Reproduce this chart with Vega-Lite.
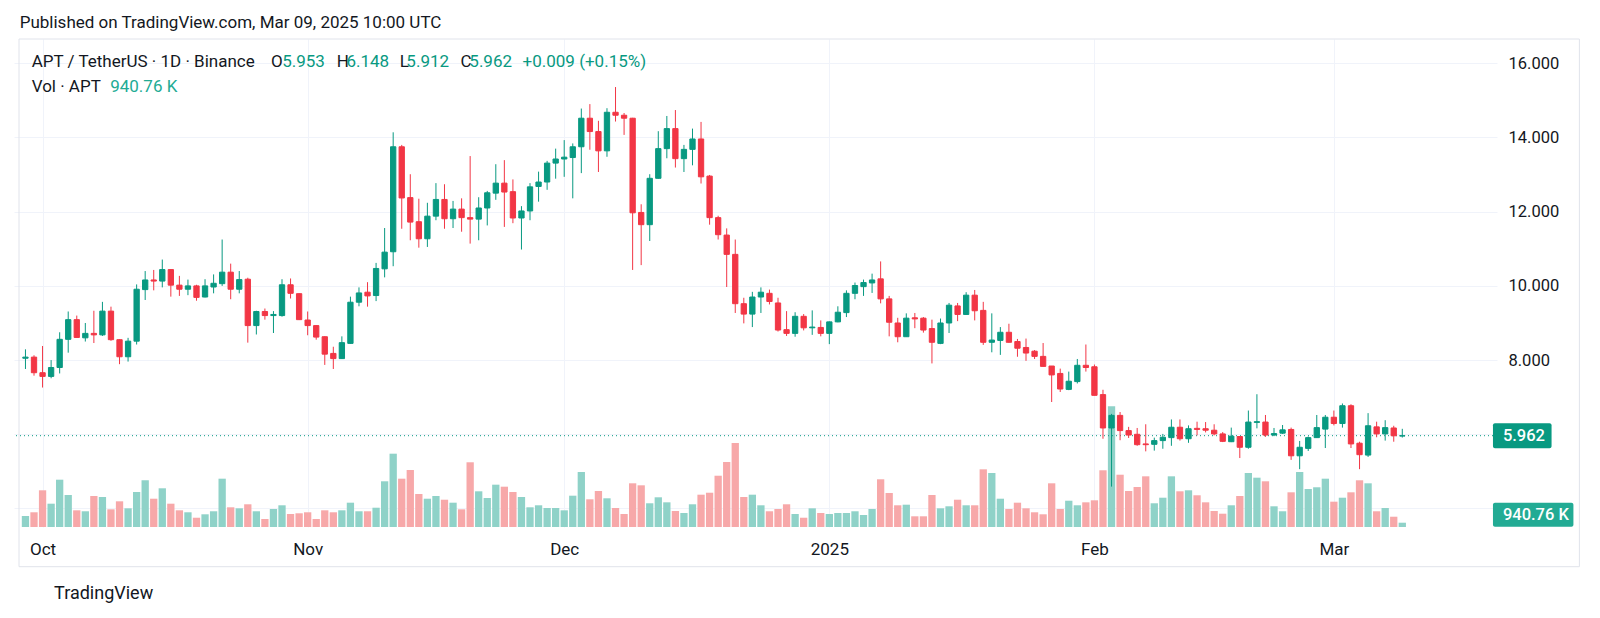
{
  "$schema": "https://vega.github.io/schema/vega-lite/v6.json",
  "width": 1483,
  "height": 488,
  "autosize": {"type": "none"},
  "padding": {"left": 14, "top": 39, "right": 103, "bottom": 91},
  "background": "#ffffff",
  "config": {"view": {"stroke": null}, "font": "Roboto"},
  "data": {"values": [
{"d":"2024-09-29","o":8.05,"h":8.29,"l":7.76,"c":8.08,"v":2.41},
{"d":"2024-09-30","o":8.08,"h":8.13,"l":7.58,"c":7.66,"v":3.22},
{"d":"2024-10-01","o":7.66,"h":8.38,"l":7.26,"c":7.56,"v":8.03},
{"d":"2024-10-02","o":7.56,"h":8.00,"l":7.51,"c":7.80,"v":5.10},
{"d":"2024-10-03","o":7.80,"h":8.75,"l":7.64,"c":8.56,"v":10.35},
{"d":"2024-10-04","o":8.56,"h":9.31,"l":8.20,"c":9.09,"v":7.00},
{"d":"2024-10-05","o":9.09,"h":9.20,"l":8.60,"c":8.61,"v":3.65},
{"d":"2024-10-06","o":8.60,"h":9.00,"l":8.50,"c":8.72,"v":3.44},
{"d":"2024-10-07","o":8.72,"h":9.33,"l":8.46,"c":8.68,"v":6.78},
{"d":"2024-10-08","o":8.68,"h":9.57,"l":8.65,"c":9.32,"v":6.56},
{"d":"2024-10-09","o":9.32,"h":9.44,"l":8.52,"c":8.55,"v":3.87},
{"d":"2024-10-10","o":8.55,"h":8.56,"l":7.89,"c":8.09,"v":5.62},
{"d":"2024-10-11","o":8.09,"h":8.60,"l":7.96,"c":8.51,"v":4.09},
{"d":"2024-10-12","o":8.51,"h":10.04,"l":8.42,"c":9.91,"v":7.66},
{"d":"2024-10-13","o":9.90,"h":10.40,"l":9.62,"c":10.16,"v":10.22},
{"d":"2024-10-14","o":10.16,"h":10.43,"l":9.88,"c":10.13,"v":6.19},
{"d":"2024-10-15","o":10.13,"h":10.71,"l":9.96,"c":10.44,"v":8.47},
{"d":"2024-10-16","o":10.44,"h":10.45,"l":9.71,"c":10.02,"v":5.10},
{"d":"2024-10-17","o":10.02,"h":10.27,"l":9.73,"c":9.91,"v":3.65},
{"d":"2024-10-18","o":9.91,"h":10.17,"l":9.75,"c":10.00,"v":3.22},
{"d":"2024-10-19","o":10.00,"h":10.03,"l":9.60,"c":9.69,"v":2.03},
{"d":"2024-10-20","o":9.70,"h":10.18,"l":9.69,"c":10.00,"v":2.78},
{"d":"2024-10-21","o":9.97,"h":10.31,"l":9.80,"c":10.07,"v":3.44},
{"d":"2024-10-22","o":10.06,"h":11.25,"l":10.00,"c":10.37,"v":10.57},
{"d":"2024-10-23","o":10.37,"h":10.60,"l":9.64,"c":9.91,"v":4.31},
{"d":"2024-10-24","o":9.91,"h":10.40,"l":9.80,"c":10.17,"v":4.09},
{"d":"2024-10-25","o":10.18,"h":10.22,"l":8.47,"c":8.93,"v":4.97},
{"d":"2024-10-26","o":8.93,"h":9.33,"l":8.69,"c":9.31,"v":3.44},
{"d":"2024-10-27","o":9.31,"h":9.39,"l":9.09,"c":9.20,"v":1.75},
{"d":"2024-10-28","o":9.20,"h":9.32,"l":8.73,"c":9.23,"v":3.94},
{"d":"2024-10-29","o":9.20,"h":10.18,"l":9.17,"c":10.03,"v":4.75},
{"d":"2024-10-30","o":10.03,"h":10.20,"l":9.66,"c":9.80,"v":2.84},
{"d":"2024-10-31","o":9.79,"h":9.80,"l":9.08,"c":9.09,"v":3.00},
{"d":"2024-11-01","o":9.08,"h":9.31,"l":8.67,"c":8.93,"v":3.22},
{"d":"2024-11-02","o":8.93,"h":8.94,"l":8.55,"c":8.62,"v":1.75},
{"d":"2024-11-03","o":8.63,"h":8.64,"l":7.87,"c":8.16,"v":3.65},
{"d":"2024-11-04","o":8.18,"h":8.36,"l":7.76,"c":8.04,"v":3.22},
{"d":"2024-11-05","o":8.04,"h":8.64,"l":8.03,"c":8.47,"v":3.65},
{"d":"2024-11-06","o":8.45,"h":9.71,"l":8.44,"c":9.56,"v":5.32},
{"d":"2024-11-07","o":9.56,"h":9.96,"l":9.45,"c":9.81,"v":3.44},
{"d":"2024-11-08","o":9.83,"h":10.10,"l":9.44,"c":9.73,"v":3.44},
{"d":"2024-11-09","o":9.74,"h":10.62,"l":9.59,"c":10.47,"v":4.22},
{"d":"2024-11-10","o":10.46,"h":11.56,"l":10.23,"c":10.91,"v":10.00},
{"d":"2024-11-11","o":10.92,"h":14.14,"l":10.53,"c":13.75,"v":16.04},
{"d":"2024-11-12","o":13.75,"h":13.80,"l":11.54,"c":12.37,"v":10.57},
{"d":"2024-11-13","o":12.38,"h":13.01,"l":11.23,"c":11.72,"v":12.47},
{"d":"2024-11-14","o":11.73,"h":12.35,"l":11.03,"c":11.27,"v":7.22},
{"d":"2024-11-15","o":11.27,"h":12.24,"l":11.05,"c":11.88,"v":6.19},
{"d":"2024-11-16","o":11.88,"h":12.77,"l":11.77,"c":12.33,"v":6.78},
{"d":"2024-11-17","o":12.33,"h":12.74,"l":11.54,"c":11.81,"v":5.97},
{"d":"2024-11-18","o":11.81,"h":12.29,"l":11.56,"c":12.07,"v":5.32},
{"d":"2024-11-19","o":12.07,"h":12.36,"l":11.46,"c":11.84,"v":3.87},
{"d":"2024-11-20","o":11.84,"h":13.50,"l":11.14,"c":11.80,"v":14.16},
{"d":"2024-11-21","o":11.80,"h":12.39,"l":11.23,"c":12.10,"v":7.81},
{"d":"2024-11-22","o":12.10,"h":12.56,"l":11.63,"c":12.51,"v":6.35},
{"d":"2024-11-23","o":12.50,"h":13.28,"l":12.32,"c":12.77,"v":9.26},
{"d":"2024-11-24","o":12.77,"h":13.39,"l":11.59,"c":12.53,"v":8.82},
{"d":"2024-11-25","o":12.54,"h":12.87,"l":11.69,"c":11.83,"v":7.66},
{"d":"2024-11-26","o":11.83,"h":12.15,"l":10.98,"c":12.02,"v":6.56},
{"d":"2024-11-27","o":12.02,"h":12.77,"l":11.77,"c":12.67,"v":4.31},
{"d":"2024-11-28","o":12.68,"h":13.08,"l":12.27,"c":12.80,"v":4.75},
{"d":"2024-11-29","o":12.80,"h":13.37,"l":12.59,"c":13.31,"v":4.16},
{"d":"2024-11-30","o":13.31,"h":13.70,"l":12.89,"c":13.42,"v":4.16},
{"d":"2024-12-01","o":13.42,"h":13.93,"l":12.94,"c":13.47,"v":3.65},
{"d":"2024-12-02","o":13.46,"h":13.84,"l":12.36,"c":13.75,"v":6.85},
{"d":"2024-12-03","o":13.75,"h":14.78,"l":13.04,"c":14.52,"v":12.03},
{"d":"2024-12-04","o":14.52,"h":14.90,"l":13.67,"c":14.16,"v":6.06},
{"d":"2024-12-05","o":14.16,"h":14.45,"l":13.07,"c":13.64,"v":7.88},
{"d":"2024-12-06","o":13.64,"h":14.79,"l":13.48,"c":14.68,"v":6.28},
{"d":"2024-12-07","o":14.68,"h":15.36,"l":14.43,"c":14.60,"v":4.16},
{"d":"2024-12-08","o":14.60,"h":14.66,"l":14.07,"c":14.52,"v":2.84},
{"d":"2024-12-09","o":14.52,"h":14.53,"l":10.43,"c":11.97,"v":9.56},
{"d":"2024-12-10","o":11.98,"h":12.20,"l":10.56,"c":11.65,"v":9.12},
{"d":"2024-12-11","o":11.65,"h":13.01,"l":11.21,"c":12.90,"v":5.19},
{"d":"2024-12-12","o":12.90,"h":14.17,"l":12.89,"c":13.70,"v":6.50},
{"d":"2024-12-13","o":13.70,"h":14.58,"l":13.44,"c":14.24,"v":5.40},
{"d":"2024-12-14","o":14.24,"h":14.74,"l":13.19,"c":13.43,"v":3.50},
{"d":"2024-12-15","o":13.43,"h":13.80,"l":13.07,"c":13.68,"v":3.06},
{"d":"2024-12-16","o":13.68,"h":14.24,"l":13.25,"c":13.96,"v":4.97},
{"d":"2024-12-17","o":13.96,"h":14.42,"l":12.76,"c":12.94,"v":7.07},
{"d":"2024-12-18","o":12.96,"h":12.99,"l":11.65,"c":11.84,"v":7.50},
{"d":"2024-12-19","o":11.84,"h":11.89,"l":11.25,"c":11.38,"v":11.22},
{"d":"2024-12-20","o":11.37,"h":11.55,"l":9.97,"c":10.85,"v":14.22},
{"d":"2024-12-21","o":10.85,"h":11.25,"l":9.27,"c":9.52,"v":18.38},
{"d":"2024-12-22","o":9.52,"h":9.68,"l":8.99,"c":9.24,"v":6.56},
{"d":"2024-12-23","o":9.24,"h":9.84,"l":8.89,"c":9.70,"v":7.07},
{"d":"2024-12-24","o":9.70,"h":9.96,"l":9.27,"c":9.83,"v":4.75},
{"d":"2024-12-25","o":9.80,"h":9.90,"l":9.50,"c":9.58,"v":3.44},
{"d":"2024-12-26","o":9.54,"h":9.68,"l":8.77,"c":8.81,"v":3.94},
{"d":"2024-12-27","o":8.82,"h":9.32,"l":8.65,"c":8.72,"v":4.97},
{"d":"2024-12-28","o":8.72,"h":9.29,"l":8.63,"c":9.18,"v":2.84},
{"d":"2024-12-29","o":9.18,"h":9.24,"l":8.80,"c":8.87,"v":2.03},
{"d":"2024-12-30","o":8.87,"h":9.34,"l":8.68,"c":8.89,"v":4.09},
{"d":"2024-12-31","o":8.88,"h":9.07,"l":8.64,"c":8.72,"v":3.06},
{"d":"2025-01-01","o":8.72,"h":9.04,"l":8.43,"c":9.03,"v":2.84},
{"d":"2025-01-02","o":9.03,"h":9.45,"l":9.02,"c":9.29,"v":3.06},
{"d":"2025-01-03","o":9.28,"h":9.88,"l":9.16,"c":9.80,"v":3.06},
{"d":"2025-01-04","o":9.80,"h":10.09,"l":9.64,"c":10.01,"v":3.44},
{"d":"2025-01-05","o":9.98,"h":10.17,"l":9.73,"c":10.09,"v":2.63},
{"d":"2025-01-06","o":10.08,"h":10.33,"l":9.81,"c":10.16,"v":3.94},
{"d":"2025-01-07","o":10.19,"h":10.66,"l":9.53,"c":9.65,"v":10.44},
{"d":"2025-01-08","o":9.65,"h":9.73,"l":8.64,"c":9.02,"v":7.44},
{"d":"2025-01-09","o":9.00,"h":9.14,"l":8.48,"c":8.63,"v":4.75},
{"d":"2025-01-10","o":8.63,"h":9.26,"l":8.63,"c":9.13,"v":4.88},
{"d":"2025-01-11","o":9.14,"h":9.27,"l":8.86,"c":9.11,"v":2.34},
{"d":"2025-01-12","o":9.13,"h":9.16,"l":8.74,"c":8.81,"v":2.34},
{"d":"2025-01-13","o":8.85,"h":9.09,"l":7.91,"c":8.48,"v":7.00},
{"d":"2025-01-14","o":8.45,"h":9.12,"l":8.43,"c":9.00,"v":4.09},
{"d":"2025-01-15","o":9.00,"h":9.54,"l":8.73,"c":9.48,"v":4.53},
{"d":"2025-01-16","o":9.46,"h":9.54,"l":9.05,"c":9.23,"v":5.97},
{"d":"2025-01-17","o":9.23,"h":9.83,"l":9.23,"c":9.75,"v":4.75},
{"d":"2025-01-18","o":9.75,"h":9.89,"l":9.07,"c":9.33,"v":4.75},
{"d":"2025-01-19","o":9.34,"h":9.57,"l":8.41,"c":8.48,"v":12.62},
{"d":"2025-01-20","o":8.48,"h":9.26,"l":8.21,"c":8.54,"v":11.82},
{"d":"2025-01-21","o":8.53,"h":8.89,"l":8.14,"c":8.75,"v":6.19},
{"d":"2025-01-22","o":8.75,"h":8.98,"l":8.47,"c":8.48,"v":3.94},
{"d":"2025-01-23","o":8.50,"h":8.57,"l":8.09,"c":8.32,"v":5.32},
{"d":"2025-01-24","o":8.34,"h":8.58,"l":7.98,"c":8.19,"v":4.09},
{"d":"2025-01-25","o":8.24,"h":8.27,"l":8.03,"c":8.10,"v":3.22},
{"d":"2025-01-26","o":8.10,"h":8.46,"l":7.83,"c":7.83,"v":2.78},
{"d":"2025-01-27","o":7.84,"h":7.84,"l":6.87,"c":7.60,"v":9.56},
{"d":"2025-01-28","o":7.64,"h":7.77,"l":7.14,"c":7.22,"v":3.94},
{"d":"2025-01-29","o":7.21,"h":7.69,"l":7.19,"c":7.43,"v":5.75},
{"d":"2025-01-30","o":7.42,"h":8.03,"l":7.37,"c":7.86,"v":4.75},
{"d":"2025-01-31","o":7.86,"h":8.42,"l":7.69,"c":7.80,"v":5.40},
{"d":"2025-02-01","o":7.82,"h":7.88,"l":7.05,"c":7.05,"v":5.84},
{"d":"2025-02-02","o":7.07,"h":7.20,"l":5.88,"c":6.17,"v":12.41},
{"d":"2025-02-03","o":6.17,"h":6.55,"l":4.59,"c":6.51,"v":26.41},
{"d":"2025-02-04","o":6.51,"h":6.60,"l":5.84,"c":6.10,"v":11.44},
{"d":"2025-02-05","o":6.10,"h":6.20,"l":5.90,"c":5.98,"v":7.88},
{"d":"2025-02-06","o":6.00,"h":6.17,"l":5.69,"c":5.72,"v":8.75},
{"d":"2025-02-07","o":5.74,"h":6.27,"l":5.54,"c":5.72,"v":11.09},
{"d":"2025-02-08","o":5.73,"h":5.91,"l":5.56,"c":5.83,"v":5.19},
{"d":"2025-02-09","o":5.83,"h":6.01,"l":5.61,"c":5.92,"v":6.41},
{"d":"2025-02-10","o":5.91,"h":6.40,"l":5.69,"c":6.19,"v":11.09},
{"d":"2025-02-11","o":6.19,"h":6.40,"l":5.83,"c":5.88,"v":7.81},
{"d":"2025-02-12","o":5.88,"h":6.24,"l":5.77,"c":6.15,"v":8.03},
{"d":"2025-02-13","o":6.16,"h":6.34,"l":5.97,"c":6.13,"v":6.94},
{"d":"2025-02-14","o":6.15,"h":6.33,"l":6.05,"c":6.11,"v":5.40},
{"d":"2025-02-15","o":6.11,"h":6.27,"l":5.97,"c":6.01,"v":3.50},
{"d":"2025-02-16","o":6.01,"h":6.06,"l":5.79,"c":5.81,"v":2.91},
{"d":"2025-02-17","o":5.80,"h":6.18,"l":5.79,"c":5.95,"v":4.75},
{"d":"2025-02-18","o":5.94,"h":5.95,"l":5.36,"c":5.65,"v":6.78},
{"d":"2025-02-19","o":5.65,"h":6.64,"l":5.61,"c":6.33,"v":11.82},
{"d":"2025-02-20","o":6.32,"h":7.08,"l":6.16,"c":6.34,"v":10.79},
{"d":"2025-02-21","o":6.33,"h":6.52,"l":5.93,"c":5.98,"v":10.00},
{"d":"2025-02-22","o":5.98,"h":6.17,"l":5.95,"c":6.02,"v":4.53},
{"d":"2025-02-23","o":6.03,"h":6.25,"l":6.01,"c":6.12,"v":3.44},
{"d":"2025-02-24","o":6.13,"h":6.18,"l":5.31,"c":5.42,"v":7.59},
{"d":"2025-02-25","o":5.42,"h":5.82,"l":5.06,"c":5.65,"v":12.03},
{"d":"2025-02-26","o":5.62,"h":5.94,"l":5.55,"c":5.91,"v":8.31},
{"d":"2025-02-27","o":5.91,"h":6.52,"l":5.90,"c":6.18,"v":8.69},
{"d":"2025-02-28","o":6.14,"h":6.52,"l":5.63,"c":6.46,"v":10.57},
{"d":"2025-03-01","o":6.46,"h":6.64,"l":6.24,"c":6.29,"v":5.54},
{"d":"2025-03-02","o":6.29,"h":6.83,"l":6.18,"c":6.77,"v":6.41},
{"d":"2025-03-03","o":6.77,"h":6.81,"l":5.63,"c":5.74,"v":7.59},
{"d":"2025-03-04","o":5.76,"h":5.80,"l":5.06,"c":5.45,"v":10.22},
{"d":"2025-03-05","o":5.44,"h":6.57,"l":5.39,"c":6.23,"v":9.56},
{"d":"2025-03-06","o":6.20,"h":6.34,"l":5.92,"c":6.01,"v":3.44},
{"d":"2025-03-07","o":6.01,"h":6.38,"l":5.83,"c":6.18,"v":4.16},
{"d":"2025-03-08","o":6.17,"h":6.23,"l":5.80,"c":5.96,"v":2.25},
{"d":"2025-03-09","o":5.953,"h":6.148,"l":5.912,"c":5.962,"v":0.94}
  ]},
  "resolve": {"scale": {"y": "independent"}, "axis": {"y": "independent"}},
  "layer": [
    {
      "mark": {"type": "bar", "width": 7.3},
      "encoding": {
        "x": {"field": "d", "type": "temporal",
              "scale": {"type": "utc", "domain": [1727502768000, 1742384736000], "nice": false},
              "axis": {
                "title": null, "domain": false, "ticks": false, "grid": true, "gridColor": "#f0f3fa",
                "values": [1727740800000, 1730419200000, 1733011200000, 1735689600000, 1738368000000, 1740787200000],
                "labelExpr": "utcmonth(datum.value) == 0 ? utcFormat(datum.value, '%Y') : utcFormat(datum.value, '%b')",
                "labelFont": "Roboto", "labelFontSize": 17, "labelColor": "#131722",
                "labelPadding": 14, "labelAlign": "center", "labelFlush": false, "labelOverlap": false
              }},
        "y": {"field": "v", "type": "quantitative", "stack": null,
              "scale": {"domain": [0, 106.77], "nice": false, "zero": false},
              "axis": {"orient": "left", "title": null, "labels": false, "ticks": false, "domain": false, "grid": false}},
        "color": {"condition": {"test": "datum.c >= datum.o", "value": "#8fd2c8"}, "value": "#f7a8a9"}
      }
    },
    {
      "layer": [
        {
          "data": {"values": [{}]},
          "mark": {"type": "rule", "color": "#089981", "strokeDash": [1, 3], "strokeWidth": 1},
          "encoding": {
            "y": {"datum": 5.962, "type": "quantitative"}
          }
        },
        {
          "mark": {"type": "rule", "strokeWidth": 1},
          "encoding": {
            "x": {"field": "d", "type": "temporal",
                  "scale": {"type": "utc", "domain": [1727502768000, 1742384736000], "nice": false}},
            "y": {"field": "l", "type": "quantitative",
                  "scale": {"domain": [3.501, 16.655], "nice": false, "zero": false}},
            "y2": {"field": "h"},
            "color": {"condition": {"test": "datum.c >= datum.o", "value": "#089981"}, "value": "#f23645"}
          }
        },
        {
          "mark": {"type": "bar", "width": 5.3, "strokeWidth": 1},
          "encoding": {
            "x": {"field": "d", "type": "temporal",
                  "scale": {"type": "utc", "domain": [1727502768000, 1742384736000], "nice": false}},
            "y": {"field": "o", "type": "quantitative",
                  "scale": {"domain": [3.501, 16.655], "nice": false, "zero": false},
                  "axis": {
                    "orient": "right", "title": null, "domain": false, "ticks": false, "grid": true, "gridColor": "#f0f3fa",
                    "values": [4, 6, 8, 10, 12, 14, 16],
                    "labelExpr": "datum.value >= 8 ? format(datum.value, '.3f') : ''",
                    "labelFont": "Roboto", "labelFontSize": 16.5, "labelColor": "#131722",
                    "labelPadding": 11, "labelAlign": "left", "labelBaseline": "middle"
                  }},
            "y2": {"field": "c"},
            "color": {"condition": {"test": "datum.c >= datum.o", "value": "#089981"}, "value": "#f23645"},
            "stroke": {"condition": {"test": "datum.c >= datum.o", "value": "#089981"}, "value": "#f23645"}
          }
        },
        {
          "data": {"values": [{}]},
          "mark": {"type": "rect", "color": "#089981", "cornerRadius": 2},
          "encoding": {
            "x": {"datum": 1742394480536, "type": "temporal"},
            "x2": {"datum": 1742986536273},
            "y": {"datum": 6.296, "type": "quantitative"},
            "y2": {"datum": 5.623}
          }
        },
        {
          "data": {"values": [{}]},
          "mark": {"type": "rect", "color": "#22ab94", "cornerRadius": 2},
          "encoding": {
            "x": {"datum": 1742394480536, "type": "temporal"},
            "x2": {"datum": 1743207302819},
            "y": {"datum": 4.156, "type": "quantitative"},
            "y2": {"datum": 3.509}
          }
        },
        {
          "data": {"values": [{}]},
          "mark": {"type": "text", "text": "5.962", "align": "left", "baseline": "middle", "font": "Roboto", "fontSize": 16.5, "fontWeight": 500, "color": "#ffffff"},
          "encoding": {
            "x": {"datum": 1742494828966, "type": "temporal"},
            "y": {"datum": 5.962, "type": "quantitative"}
          }
        },
        {
          "data": {"values": [{}]},
          "mark": {"type": "text", "text": "940.76 K", "align": "left", "baseline": "middle", "font": "Roboto", "fontSize": 16.5, "fontWeight": 500, "color": "#ffffff"},
          "encoding": {
            "x": {"datum": 1742494828966, "type": "temporal"},
            "y": {"datum": 3.833, "type": "quantitative"}
          }
        },
        {
          "data": {"values": [{}]},
          "mark": {"type": "text", "text": "Published on TradingView.com, Mar 09, 2025 10:00 UTC", "align": "left", "baseline": "alphabetic", "font": "Roboto", "fontSize": 17, "color": "#131722"},
          "encoding": {
            "x": {"datum": 1727509797914, "type": "temporal"},
            "y": {"datum": 16.96, "type": "quantitative"}
          }
        },
        {
          "data": {"values": [{}]},
          "mark": {"type": "text", "text": "APT / TetherUS · 1D · Binance", "align": "left", "baseline": "alphabetic", "font": "Roboto", "fontSize": 17, "color": "#131722"},
          "encoding": {
            "x": {"datum": 1727631219514, "type": "temporal"},
            "y": {"datum": 15.9, "type": "quantitative"}
          }
        },
        {
          "data": {"values": [{}]},
          "mark": {"type": "text", "text": "O", "align": "left", "baseline": "alphabetic", "font": "Roboto", "fontSize": 17, "color": "#131722"},
          "encoding": {
            "x": {"datum": 1730049616677, "type": "temporal"},
            "y": {"datum": 15.9, "type": "quantitative"}
          }
        },
        {
          "data": {"values": [{}]},
          "mark": {"type": "text", "text": "5.953", "align": "left", "baseline": "alphabetic", "font": "Roboto", "fontSize": 17, "color": "#089981"},
          "encoding": {
            "x": {"datum": 1730162006919, "type": "temporal"},
            "y": {"datum": 15.9, "type": "quantitative"}
          }
        },
        {
          "data": {"values": [{}]},
          "mark": {"type": "text", "text": "H", "align": "left", "baseline": "alphabetic", "font": "Roboto", "fontSize": 17, "color": "#131722"},
          "encoding": {
            "x": {"datum": 1730713923284, "type": "temporal"},
            "y": {"datum": 15.9, "type": "quantitative"}
          }
        },
        {
          "data": {"values": [{}]},
          "mark": {"type": "text", "text": "6.148", "align": "left", "baseline": "alphabetic", "font": "Roboto", "fontSize": 17, "color": "#089981"},
          "encoding": {
            "x": {"datum": 1730811261261, "type": "temporal"},
            "y": {"datum": 15.9, "type": "quantitative"}
          }
        },
        {
          "data": {"values": [{}]},
          "mark": {"type": "text", "text": "L", "align": "left", "baseline": "alphabetic", "font": "Roboto", "fontSize": 17, "color": "#131722"},
          "encoding": {
            "x": {"datum": 1731349128846, "type": "temporal"},
            "y": {"datum": 15.9, "type": "quantitative"}
          }
        },
        {
          "data": {"values": [{}]},
          "mark": {"type": "text", "text": "5.912", "align": "left", "baseline": "alphabetic", "font": "Roboto", "fontSize": 17, "color": "#089981"},
          "encoding": {
            "x": {"datum": 1731416362294, "type": "temporal"},
            "y": {"datum": 15.9, "type": "quantitative"}
          }
        },
        {
          "data": {"values": [{}]},
          "mark": {"type": "text", "text": "C", "align": "left", "baseline": "alphabetic", "font": "Roboto", "fontSize": 17, "color": "#131722"},
          "encoding": {
            "x": {"datum": 1731963261238, "type": "temporal"},
            "y": {"datum": 15.9, "type": "quantitative"}
          }
        },
        {
          "data": {"values": [{}]},
          "mark": {"type": "text", "text": "5.962", "align": "left", "baseline": "alphabetic", "font": "Roboto", "fontSize": 17, "color": "#089981"},
          "encoding": {
            "x": {"datum": 1732052571340, "type": "temporal"},
            "y": {"datum": 15.9, "type": "quantitative"}
          }
        },
        {
          "data": {"values": [{}]},
          "mark": {"type": "text", "text": "+0.009 (+0.15%)", "align": "left", "baseline": "alphabetic", "font": "Roboto", "fontSize": 17, "color": "#089981"},
          "encoding": {
            "x": {"datum": 1732590438925, "type": "temporal"},
            "y": {"datum": 15.9, "type": "quantitative"}
          }
        },
        {
          "data": {"values": [{}]},
          "mark": {"type": "text", "text": "Vol · APT", "align": "left", "baseline": "alphabetic", "font": "Roboto", "fontSize": 17, "color": "#131722"},
          "encoding": {
            "x": {"datum": 1727631219514, "type": "temporal"},
            "y": {"datum": 15.226, "type": "quantitative"}
          }
        },
        {
          "data": {"values": [{}]},
          "mark": {"type": "text", "text": "940.76 K", "align": "left", "baseline": "alphabetic", "font": "Roboto", "fontSize": 17, "color": "#22ab94"},
          "encoding": {
            "x": {"datum": 1728423972111, "type": "temporal"},
            "y": {"datum": 15.226, "type": "quantitative"}
          }
        },
        {
          "data": {"values": [{}]},
          "mark": {"type": "text", "text": "TradingView", "align": "left", "baseline": "alphabetic", "font": "Roboto", "fontSize": 18, "color": "#131722"},
          "encoding": {
            "x": {"datum": 1727857003482, "type": "temporal"},
            "y": {"datum": 1.561, "type": "quantitative"}
          }
        },
        {
          "data": {"values": [{}]},
          "mark": {"type": "rect", "fill": "transparent", "stroke": "#e0e3eb", "strokeWidth": 1},
          "encoding": {
            "x": {"datum": 1727502773524, "type": "temporal"},
            "x2": {"datum": 1743267511877},
            "y": {"datum": 16.655, "type": "quantitative"},
            "y2": {"datum": 2.431}
          }
        }
      ]
    }
  ]
}
